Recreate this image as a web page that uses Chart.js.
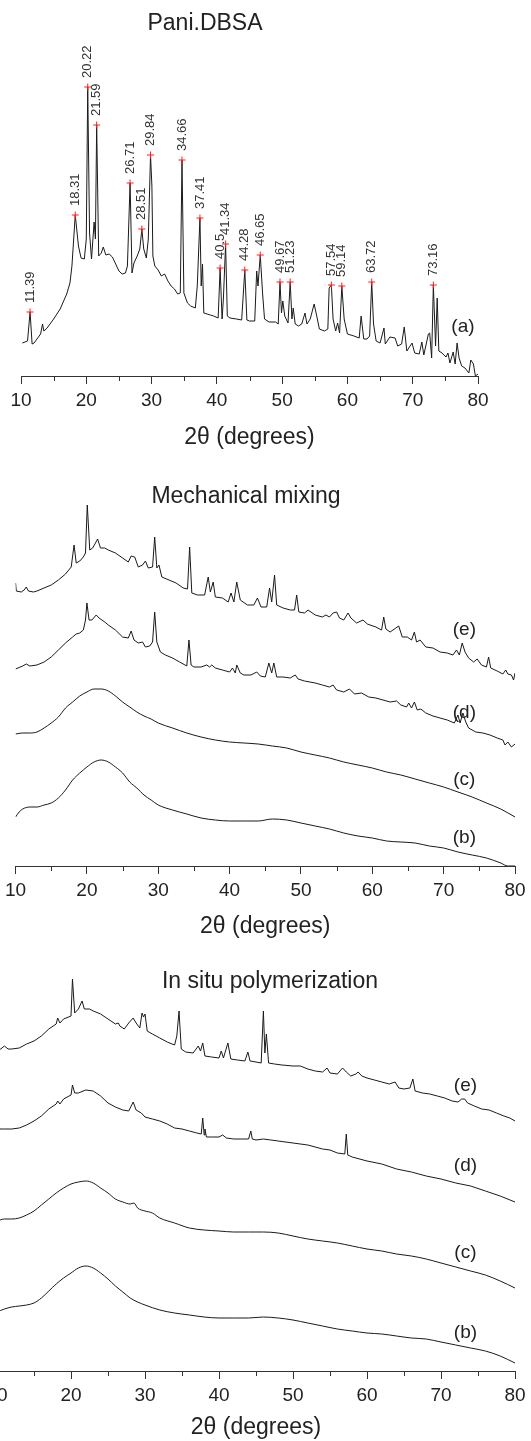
<!DOCTYPE html>
<html>
<head>
<meta charset="utf-8">
<script src="https://cdn.jsdelivr.net/npm/chart.js@4.4.0/dist/chart.umd.min.js"></script>
<style>
  html, body { margin: 0; padding: 0; background: #fff; overflow: hidden; }
  body { width: 531px; height: 1441px; position: relative; }
  canvas { position: absolute; }
</style>
</head>
<body>
<canvas id="pani" width="531" height="460" style="left:0;top:0"></canvas>
<canvas id="mech" width="531" height="480" style="left:0;top:460px"></canvas>
<canvas id="insitu" width="551" height="501" style="left:-20px;top:940px"></canvas>
<script>
// ---- Pani.DBSA (a) ----
var aX = [10.2,11,11.39,11.7,12,13,13.3,13.5,14,15,16,17,17.5,17.8,18.31,18.8,19.2,19.7,20.0,20.22,20.5,20.8,21.2,21.4,21.59,21.9,22.3,22.6,23,23.5,24,24.5,25,25.5,26,26.3,26.71,27,27.3,27.8,28.2,28.51,28.8,29.2,29.5,29.84,30.05,30.2,30.5,31,31.5,32,32.5,33,33.5,34,34.4,34.66,34.95,35.5,36,36.7,37,37.41,37.6,37.8,38,38.5,39,39.5,40.2,40.5,40.8,41,41.34,41.6,42,43,43.8,44.28,44.6,45,45.8,46.1,46.3,46.65,47,47.3,48,49,49.4,49.67,49.9,50.1,50.4,50.9,51.23,51.5,51.7,52,52.5,53,53.5,53.8,54.3,54.9,55.3,55.7,56.5,57,57.2,57.54,57.8,58.2,58.5,58.8,59.14,59.5,60,61,61.8,62.1,62.5,63,63.4,63.72,64,64.4,65,65.6,65.8,66.5,67.3,67.7,68.3,68.7,69.1,69.9,70.3,71,71.4,71.7,72.4,72.6,72.9,73.16,73.5,73.75,74,74.5,75.1,75.4,75.7,76.2,76.5,76.8,77.1,77.5,78,78.6,78.9,79.3,79.6,80];
var aY = [33,35,64,32,33,42,52,45,48,57,67,82,93,110,161,130,118,117,137,289,143,117,154,137,251,120,123,129,121,122,119,112,105,102,103,110,193,103,113,120,127,147,127,118,137,221,190,120,110,106,100,102,95,90,87,82,83,216,83,73,70,68,90,158,90,112,63,62,61,60,58,108,57,77,132,60,58,57,56,106,56,55,55,105,90,121,83,57,54,54,52,94,63,75,60,53,94,57,68,52,50,52,63,52,57,72,60,47,45,47,88,91,57,45,53,43,90,57,42,40,38,60,37,37,40,94,52,35,33,48,32,39,38,30,32,49,25,33,23,22,34,21,42,43,18,91,30,78,25,23,19,23,13,24,12,33,18,10,8,3,16,12,0,2];
var peakX = [11.39,18.31,20.22,21.59,26.71,28.51,29.84,34.66,37.41,40.5,41.34,44.28,46.65,49.67,51.23,57.54,59.14,63.72,73.16];
var peakY = [64,161,289,251,193,147,221,216,158,108,132,106,121,94,94,91,90,94,91];
var peakText = ['11.39','18.31','20.22','21.59','26.71','28.51','29.84','34.66','37.41','40.5','41.34','44.28','46.65','49.67','51.23','57.54','59.14','63.72','73.16'];

// ---- Mechanical mixing (b)-(e) ----
var mbX = [10,10.5,11,12,13,14,15,16,17,18,19,20,21,22,23,24,25,26,27,28,29,30,32,34,36,38,40,42,44,46,48,50,52,54,56,58,60,62,64,66,68,70,72,74,76,78,79,80];
var mbY = [49,54,57,59,59,61,63,68,76,86,93,99,104,106,104,99,93,84,78,71,66,61,56,52,48,46,45,45,45,47,46,43,40,37,33,30,28,25,24,23,20,18,14,11,8,3,0,0];
var mcX = [10,11,12,13,14,15,16,17,18,19,20,21,22,23,24,25,26,27,28,29,30,32,34,36,38,40,42,44,46,48,50,52,54,56,58,60,62,64,66,68,70,72,74,76,78,80];
var mcY = [132,133,133,134,138,143,149,158,164,170,174,177,177,175,170,164,159,154,150,147,143,138,133,129,126,124,123,122,120,118,114,111,108,104,101,98,94,91,87,83,79,74,69,63,57,49];
var mdX = [10,11,11.5,12,13,14,15,16,17,18,18.5,19,19.5,19.8,20,20.3,20.7,21.3,21.7,22.5,23,24,25,25.8,26.2,26.6,27.2,27.8,28.2,28.8,29.2,29.5,29.8,30.3,31,32,33,34,34.3,34.6,35,36,36.8,37.2,37.5,38,39,40,40.4,40.8,41,41.5,42,43,43.8,44.3,45,45.5,45.9,46.2,46.6,47.5,48.5,49.2,49.6,50.5,52,53,54,54.5,55,56,56.8,57.5,58.5,59.5,60.5,61.5,62.5,63.4,64,64.8,65.1,65.5,65.9,66.3,66.8,67.5,68.5,69.5,70.5,71.5,72,72.3,72.7,73.1,73.5,74.5,75.5,76.5,77.5,78.3,78.6,79,79.5,80];
var mdY = [197,200,202,200,201,204,209,216,223,229,232,233,236,246,263,246,246,251,248,244,241,236,229,228,235,226,223,224,219,220,224,254,224,214,211,208,204,200,226,201,199,199,201,199,201,198,196,194,198,193,201,193,191,191,194,190,189,203,193,203,189,189,188,191,187,185,183,181,179,181,176,174,177,172,173,169,168,166,164,165,161,159,163,158,164,156,157,153,150,148,146,143,151,143,153,144,138,134,133,131,128,126,121,124,119,122];
var meX = [10,10.1,10.8,11.2,11.5,11.8,12.5,13,14,15,16,17,17.8,18.2,18.5,19,19.5,19.8,20.05,20.4,20.8,21.2,21.5,21.9,22.5,23,24,25,25.8,26.2,26.7,27.2,27.8,28.2,28.6,29.2,29.5,29.8,30.1,30.5,31.5,32.5,33.5,34.1,34.4,34.7,35.5,36.5,37,37.3,37.7,38,39,39.8,40.2,40.6,41,41.5,42.5,43.4,43.9,44.4,45.2,45.6,45.9,46.3,46.6,47.5,48.5,49.1,49.4,49.7,50.5,51,52,53,53.5,54,54.5,55,55.4,56,56.6,57,57.8,58.7,59.3,60.5,61.3,61.6,61.9,62.5,63.3,63.7,64.2,64.9,65.5,65.9,66.2,66.7,67.5,68.5,69.5,70.5,71.3,71.8,72.2,72.6,73,73.5,74.2,74.7,75.3,76,76.3,76.6,77.5,78.3,78.7,79,79.5,79.8,80];
var meY = [283,275,274,276,279,275,274,275,278,281,286,292,299,321,303,305,309,313,361,316,318,323,327,318,318,316,313,308,304,310,309,299,301,305,298,299,329,298,301,289,286,283,278,277,319,273,271,271,289,274,284,269,268,264,273,264,284,266,261,261,268,259,259,278,264,291,261,258,256,256,271,254,253,256,251,249,251,249,253,254,248,246,253,248,243,246,242,239,236,249,237,234,238,240,229,229,226,234,224,226,219,218,214,213,211,216,211,223,214,208,204,207,201,199,209,198,195,192,196,192,191,186,193];

// ---- In situ polymerization (b)-(e) ----
var sbX = [10,11,12,13,14,15,16,17,18,19,20,21,22,23,24,25,26,27,28,29,30,32,34,36,38,40,42,44,46,48,50,52,54,56,58,60,62,64,66,68,70,72,74,76,78,80];
var sbY = [59,62,64,65,66,68,73,80,87,93,98,103,105,103,98,92,85,79,73,69,66,61,58,56,54,53,53,53,54,53,51,48,45,42,40,38,37,35,33,32,29,26,23,20,15,8];
var scX = [10,11,12,13,14,15,16,17,18,19,20,21,22,23,24,25,26,27,28,28.5,29,30,31,32,34,36,38,40,42,44,46,48,50,52,54,56,58,60,62,64,66,68,70,72,74,76,78,80];
var scY = [150,152,152,153,156,160,166,172,178,183,187,189,190,188,183,178,172,169,167,168,163,160,158,153,148,143,141,140,139,139,139,138,135,132,130,128,125,122,120,117,115,112,108,104,100,96,90,83];
var sdX = [10,11,12,13,14,15,16,17,18,18.2,18.5,19,20,20.2,20.5,21,22,23,24,25,26,27,27.8,28.4,28.8,29.5,30,31,32,33,34,35,36,37,37.6,37.8,38,38.1,38.3,39,40,40.5,41,42,43,44,44.3,44.5,45,46,47,48,50,52,54,55,56,57,57.2,57.4,58,60,62,64,66,68,70,72,74,76,78,80];
var sdY = [242,242,242,243,246,250,255,262,267,270,267,272,276,286,278,278,281,280,275,268,264,261,260,269,261,258,254,252,250,247,243,242,240,238,237,253,236,242,234,234,234,236,233,232,232,232,240,232,231,232,231,230,228,226,222,221,218,217,237,216,214,210,207,202,199,195,192,188,185,180,175,169];
var seX = [10,10.5,11,11.5,12,13,14,15,16,17,18,18.2,18.5,19,20,20.2,20.5,21,21.5,21.8,22.5,23,24,25,26,26.4,26.6,27.2,27.8,28.4,28.8,29.3,29.6,29.8,30,30.3,31,32,33,34,34.3,34.6,34.9,35.5,36.5,37.2,37.5,37.8,38.1,39,40,40.3,40.6,41.2,41.6,42.5,43.5,43.9,44.2,45,45.7,46,46.2,46.4,46.7,47.5,48.5,50,51,52,53,54,54.6,55,56,56.7,57.2,57.8,58.5,58.8,59.3,60,61,62,63,63.8,64.3,65,65.8,66.2,66.5,67.5,68.5,69.5,70.5,71.5,72.3,72.8,73.2,73.6,74.5,75.5,76.5,77.5,78.5,79.3,80];
var seY = [322,322,325,322,322,323,327,330,335,342,347,353,348,352,355,392,358,362,370,362,362,360,357,352,347,348,345,342,348,353,348,343,358,354,357,340,337,333,329,326,335,360,322,319,318,325,320,328,315,314,313,320,313,328,312,311,310,319,310,309,308,360,318,337,308,307,306,305,305,302,300,299,303,298,297,303,299,295,297,299,295,293,291,289,287,289,283,282,283,292,280,278,277,275,273,270,269,272,272,268,265,262,261,258,255,253,250];

var curveTags = ['(e)', '(d)', '(c)', '(b)'];
var mechTagY = [236, 153, 86, 28];
var situTagY = [285, 205, 118, 38];

var FONT = 'Arial, "Liberation Sans", Helvetica, sans-serif';
var INK = '#222';

function pts(xs, ys) {
    return xs.map(function(x, i) { return {x: x, y: ys[i]}; });
}

function curve(xs, ys, smooth) {
    return {
        type: 'line',
        data: pts(xs, ys),
        borderColor: '#1a1a1a',
        borderWidth: 1,
        pointRadius: 0,
        cubicInterpolationMode: smooth ? 'monotone' : 'default',
        tension: 0,
        order: 1
    };
}

// minor ticks, panel title, curve tags and peak labels
var xrdDecor = {
    id: 'xrdDecor',
    afterDraw: function(chart, args, opts) {
        var ctx = chart.ctx, xs = chart.scales.x, ys = chart.scales.y;
        ctx.save();
        ctx.strokeStyle = '#333';
        ctx.lineWidth = 1;
        [15, 25, 35, 45, 55, 65, 75].forEach(function(v) {
            var px = Math.round(xs.getPixelForValue(v)) + 0.5;
            ctx.beginPath();
            ctx.moveTo(px, xs.top);
            ctx.lineTo(px, xs.top + 5);
            ctx.stroke();
        });
        ctx.fillStyle = INK;
        ctx.textAlign = 'center';
        ctx.textBaseline = 'alphabetic';
        ctx.font = '23px ' + FONT;
        ctx.fillText(opts.title, opts.titleX, opts.titleY);
        ctx.font = '19px ' + FONT;
        ctx.textBaseline = 'middle';
        opts.tags.forEach(function(t, i) {
            ctx.fillText(t, xs.getPixelForValue(opts.tagX), ys.getPixelForValue(opts.tagY[i]));
        });
        if (opts.peaks) {
            ctx.font = '13px ' + FONT;
            ctx.textAlign = 'left';
            ctx.fillStyle = '#333';
            opts.peaks.x.forEach(function(v, i) {
                ctx.save();
                ctx.translate(xs.getPixelForValue(v), ys.getPixelForValue(opts.peaks.y[i]) - 9);
                ctx.rotate(-Math.PI / 2);
                ctx.fillText(opts.peaks.text[i], 0, 0);
                ctx.restore();
            });
        }
        ctx.restore();
    }
};

function makeChart(id, datasets, yMax, axisH, titlePad, pad, decor) {
    return new Chart(document.getElementById(id), {
        type: 'line',
        data: { datasets: datasets },
        plugins: [xrdDecor],
        options: {
            responsive: false,
            animation: false,
            devicePixelRatio: 1,
            layout: { padding: pad },
            plugins: {
                legend: { display: false },
                tooltip: { enabled: false },
                xrdDecor: decor
            },
            scales: {
                x: {
                    type: 'linear',
                    min: 10,
                    max: 80,
                    afterFit: function(s) { s.height = axisH; },
                    border: { display: true, color: '#333', width: 1 },
                    grid: { display: true, drawOnChartArea: false, drawTicks: true, tickLength: 8, tickColor: '#333', tickWidth: 1 },
                    ticks: { stepSize: 10, autoSkip: false, maxRotation: 0, padding: 5, color: INK, font: { family: FONT, size: 19 } },
                    title: { display: true, text: '2θ (degrees)', color: INK, font: { family: FONT, size: 23 }, padding: { top: 0, bottom: titlePad } }
                },
                y: { display: false, min: 0, max: yMax }
            }
        }
    });
}

makeChart('pani', [
    {
        type: 'scatter',
        data: pts(peakX, peakY),
        pointStyle: 'cross',
        pointRadius: 3.5,
        borderColor: 'rgb(255,30,30)',
        borderWidth: 1,
        showLine: false,
        order: 0
    },
    curve(aX, aY, false)
], 336, 84, 9, { left: 21, right: 53, top: 40, bottom: 0 }, {
    title: 'Pani.DBSA', titleX: 205, titleY: 30,
    tags: ['(a)'], tagX: 77.7, tagY: [49],
    peaks: { x: peakX, y: peakY, text: peakText }
});

makeChart('mech', [
    curve(meX, meY, false),
    curve(mdX, mdY, false),
    curve(mcX, mcY, true),
    curve(mbX, mbY, true)
], 386, 74, 0, { left: 12, right: 16, top: 20, bottom: 0 }, {
    title: 'Mechanical mixing', titleX: 246, titleY: 43,
    tags: curveTags, tagX: 72.9, tagY: mechTagY
});

makeChart('insitu', [
    curve(seX, seY, false),
    curve(sdX, sdY, false),
    curve(scX, scY, true),
    curve(sbX, sbY, true)
], 411, 70, 0, { left: 17, right: 16, top: 20, bottom: 0 }, {
    title: 'In situ polymerization', titleX: 290, titleY: 48,
    tags: curveTags, tagX: 73.3, tagY: situTagY
});
</script>
</body>
</html>
